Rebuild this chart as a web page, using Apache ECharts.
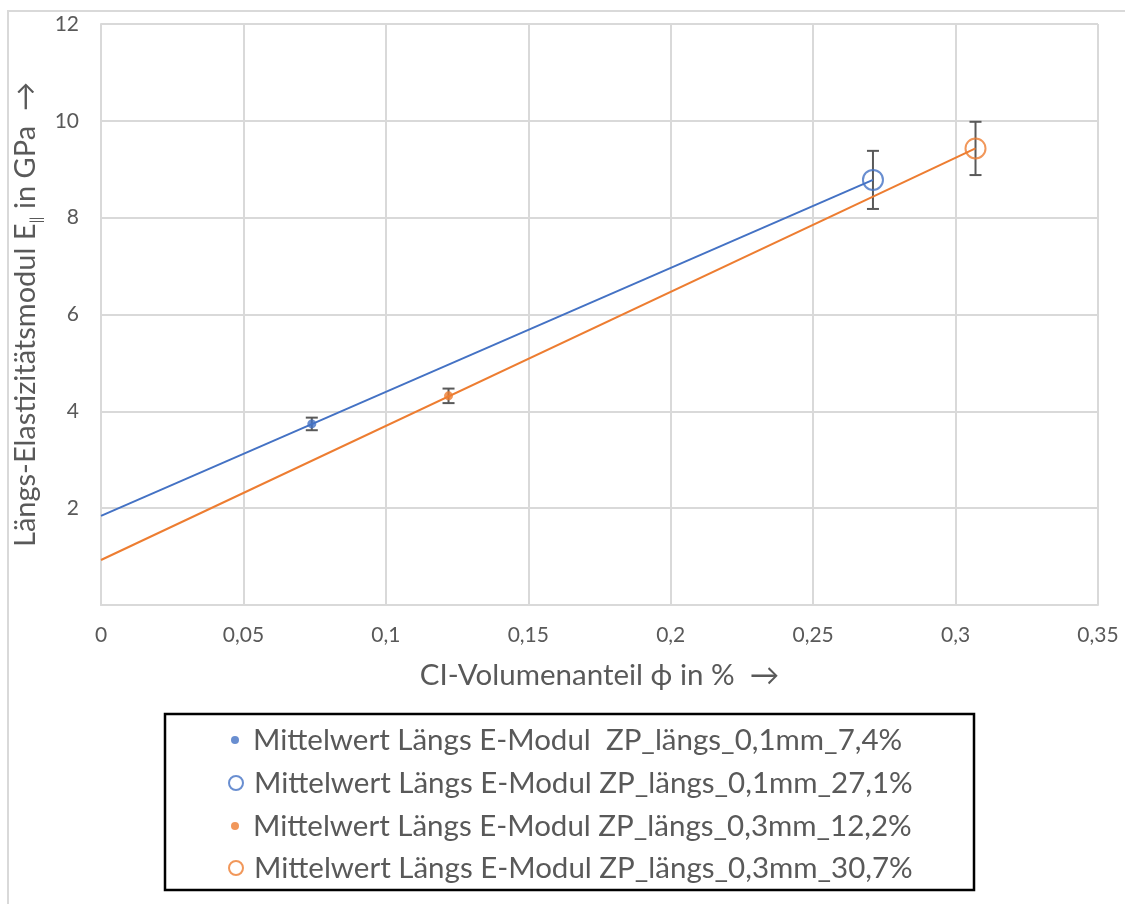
<!DOCTYPE html>
<html>
<head>
<meta charset="utf-8">
<script src="https://cdn.jsdelivr.net/npm/echarts@6/dist/echarts.min.js"></script>
<style>
  html, body { margin: 0; padding: 0; background: #ffffff; }
  #chart { width: 1125px; height: 904px; }
</style>
</head>
<body>
<div id="chart"></div>
<script>
// Mean longitudinal E-modulus per specimen group
const seriesNames = [
  'Mittelwert Längs E-Modul  ZP_längs_0,1mm_7,4%',
  'Mittelwert Längs E-Modul ZP_längs_0,1mm_27,1%',
  'Mittelwert Längs E-Modul ZP_längs_0,3mm_12,2%',
  'Mittelwert Längs E-Modul ZP_längs_0,3mm_30,7%'
];
const phi   = [0.074, 0.271, 0.122, 0.307];   // CI volume fraction
const eMean = [3.74, 8.78, 4.32, 9.43];       // GPa
const eErr  = [0.13, 0.60, 0.15, 0.55];       // ± GPa
// Linear trend lines: intercept at phi = 0, running to the larger-fraction point
const trendIntercept = [1.84, 0.93];          // 0,1mm group, 0,3mm group
const trendEndIndex  = [1, 3];

const xTicks = [0, 0.05, 0.1, 0.15, 0.2, 0.25, 0.3, 0.35];
const yTicks = [0, 2, 4, 6, 8, 10, 12];

const BLUE = '#4472C4';
const ORANGE = '#ED7D31';
const colors = [BLUE, BLUE, ORANGE, ORANGE];
const filled = [true, false, true, false];
const FONT = 'Lato';
const TXT = '#595959';

const chart = echarts.init(document.getElementById('chart'), null, { renderer: 'canvas' });

const scatterSeries = seriesNames.map((name, i) => ({
  name,
  type: 'scatter',
  z: 4,
  symbol: 'circle',
  symbolSize: filled[i] ? 9 : 20,
  itemStyle: filled[i]
    ? { color: colors[i] }
    : { color: 'rgba(0,0,0,0)', borderColor: colors[i], borderWidth: 2 },
  data: [[phi[i], eMean[i]]]
}));

const trendSeries = trendIntercept.map((b, k) => {
  const j = trendEndIndex[k];
  return {
    name: 'trend' + k,
    type: 'line',
    z: 3,
    symbol: 'none',
    silent: true,
    lineStyle: { color: colors[j], width: 2 },
    data: [[0, b], [phi[j], eMean[j]]]
  };
});

const errorSeries = {
  name: 'err',
  type: 'custom',
  z: 3,
  silent: true,
  data: phi.map((x, i) => [x, eMean[i] - eErr[i], eMean[i] + eErr[i]]),
  renderItem(params, api) {
    const x = api.value(0);
    const lo = api.coord([x, api.value(1)]);
    const hi = api.coord([x, api.value(2)]);
    const hw = 6;
    const style = { stroke: '#595959', lineWidth: 2 };
    return {
      type: 'group',
      children: [
        { type: 'line', shape: { x1: lo[0], y1: lo[1], x2: hi[0], y2: hi[1] }, style },
        { type: 'line', shape: { x1: hi[0] - hw, y1: hi[1], x2: hi[0] + hw, y2: hi[1] }, style },
        { type: 'line', shape: { x1: lo[0] - hw, y1: lo[1], x2: lo[0] + hw, y2: lo[1] }, style }
      ]
    };
  }
};

const legendText = { fontFamily: FONT, fontSize: 29.5, color: TXT, lineHeight: 34 };

chart.setOption({
  backgroundColor: '#ffffff',
  animation: false,
  textStyle: { fontFamily: FONT },
  grid: { left: 101, top: 24, right: 27, bottom: 299, containLabel: false },
  graphic: [
    { type: 'rect', shape: { x: 8, y: 11, width: 1140, height: 920 },
      style: { fill: 'none', stroke: '#d9d9d9', lineWidth: 2 }, z: -1 },
    { type: 'rect', shape: { x: 165, y: 714, width: 809, height: 176 },
      style: { fill: 'none', stroke: '#000000', lineWidth: 2.5 }, z: 10 }
  ],
  legend: [
    {
      orient: 'vertical', left: 231, top: 723, itemGap: 52,
      itemWidth: 8, itemHeight: 8, padding: 0,
      textStyle: Object.assign({}, legendText, { padding: [0, 0, 0, 9] }),
      data: [0, 2].map(i => ({ name: seriesNames[i], icon: 'circle', itemStyle: { color: colors[i] } }))
    },
    {
      orient: 'vertical', left: 228, top: 766, itemGap: 51,
      itemWidth: 14, itemHeight: 14, padding: 0,
      textStyle: Object.assign({}, legendText, { padding: [0, 0, 0, 6] }),
      data: [1, 3].map(i => ({
        name: seriesNames[i], icon: 'circle',
        itemStyle: { color: '#ffffff', borderColor: colors[i], borderWidth: 2 }
      }))
    }
  ],
  xAxis: {
    type: 'value',
    min: xTicks[0], max: xTicks[xTicks.length - 1], interval: 0.05,
    name: 'CI-Volumenanteil ϕ in %  →',
    nameLocation: 'middle', nameGap: 55,
    nameTextStyle: { fontFamily: FONT, fontSize: 29.5, color: TXT },
    axisLine: { show: true, lineStyle: { color: '#d9d9d9', width: 2 } },
    axisTick: { show: false },
    axisLabel: {
      margin: 20, fontFamily: FONT, fontSize: 21, color: TXT,
      formatter: v => String(+v.toFixed(2)).replace('.', ',')
    },
    splitLine: { show: true, lineStyle: { color: '#d9d9d9', width: 2 } }
  },
  yAxis: {
    type: 'value',
    min: yTicks[0], max: yTicks[yTicks.length - 1], interval: 2,
    name: '{a|Längs-Elastizitätsmodul E}{s|‖}{a| in GPa  →}',
    nameLocation: 'middle', nameGap: 27, nameRotate: 90,
    nameTextStyle: {
      color: TXT,
      align: 'center',
      verticalAlign: 'middle',
      rich: {
        a: { fontFamily: FONT, fontSize: 29, color: TXT, lineHeight: 36 },
        s: { fontFamily: FONT, fontSize: 16, color: TXT, lineHeight: 36, verticalAlign: 'bottom', padding: [10, 0, 0, 0] }
      }
    },
    axisLine: { show: true, lineStyle: { color: '#d9d9d9', width: 2 } },
    axisTick: { show: false },
    axisLabel: {
      margin: 22, fontFamily: FONT, fontSize: 21, color: TXT,
      formatter: v => (v === 0 ? '' : String(v))
    },
    splitLine: { show: true, lineStyle: { color: '#d9d9d9', width: 2 } }
  },
  series: [errorSeries, ...trendSeries, ...scatterSeries]
});
</script>
</body>
</html>
